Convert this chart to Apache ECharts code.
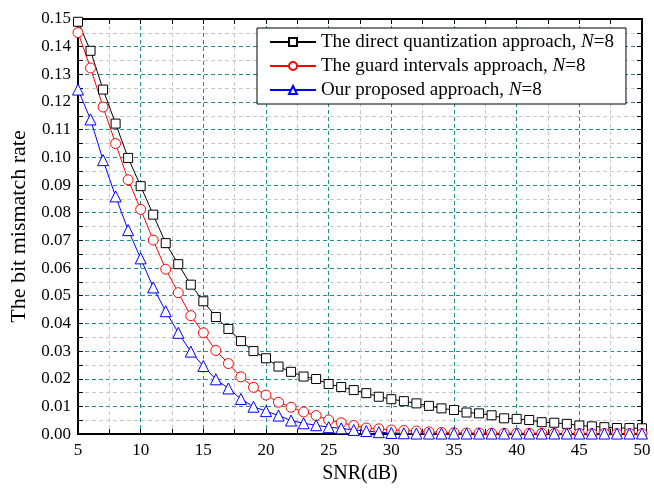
<!DOCTYPE html>
<html>
<head>
<meta charset="utf-8">
<script src="https://cdn.jsdelivr.net/npm/echarts@6/dist/echarts.min.js"></script>
<style>
  html, body { margin: 0; padding: 0; background: #fff; }
  #main { width: 654px; height: 489px; }
</style>
</head>
<body>
<div id="main"></div>
<script>
// SNR(dB) from 5 to 50
var snr = [5, 6, 7, 8, 9, 10, 11, 12, 13, 14, 15, 16, 17, 18, 19, 20, 21, 22, 23, 24, 25, 26, 27,
  28, 29, 30, 31, 32, 33, 34, 35, 36, 37, 38, 39, 40, 41, 42, 43, 44, 45, 46, 47, 48, 49, 50];

var seriesNames = [
  'The direct quantization approach, N=8',
  'The guard intervals approach, N=8',
  'Our proposed approach, N=8'
];

// bit mismatch rate
var directQuant = [0.1490, 0.1385, 0.1245, 0.1122, 0.0998, 0.0896, 0.0793, 0.0690, 0.0614, 0.0540,
  0.0480, 0.0423, 0.0380, 0.0336, 0.0300, 0.0274, 0.0244, 0.0225, 0.0208, 0.0199,
  0.0181, 0.0170, 0.0159, 0.0148, 0.0135, 0.0126, 0.0119, 0.0111, 0.0102, 0.0093,
  0.0087, 0.0078, 0.0075, 0.0068, 0.0057, 0.0055, 0.0051, 0.0043, 0.0041, 0.0037,
  0.0031, 0.0028, 0.0025, 0.0022, 0.0022, 0.0021];

var guardIntervals = [0.1451, 0.1323, 0.1182, 0.1050, 0.0919, 0.0812, 0.0701, 0.0596, 0.0511, 0.0428,
  0.0366, 0.0302, 0.0255, 0.0207, 0.0169, 0.0141, 0.0115, 0.0097, 0.0080, 0.0067,
  0.0051, 0.0041, 0.0031, 0.0022, 0.0019, 0.0015, 0.0013, 0.0011, 0.0008, 0.0006,
  0.0005, 0.0004, 0.0004, 0.0003, 0.0003, 0.0003, 0.0003, 0.0003, 0.0002, 0.0002,
  0.0002, 0.0002, 0.0002, 0.0002, 0.0002, 0.0002];

var proposed = [0.1245, 0.1137, 0.0990, 0.0859, 0.0737, 0.0635, 0.0530, 0.0444, 0.0366, 0.0298,
  0.0246, 0.0198, 0.0165, 0.0127, 0.0099, 0.0083, 0.0067, 0.0049, 0.0039, 0.0032,
  0.0025, 0.0021, 0.0015, 0.0011, 0.0007, 0.0004, 0.0003, 0.0002, 0.0002, 0.0002,
  0.0002, 0.0002, 0.0002, 0.0002, 0.0002, 0.0002, 0.0002, 0.0002, 0.0002, 0.0002,
  0.0002, 0.0002, 0.0002, 0.0002, 0.0002, 0.0002];

var serif = '"Liberation Serif", "DejaVu Serif", serif';

function pairs(ys) {
  var out = [];
  for (var i = 0; i < snr.length; i++) {
    out.push([snr[i], ys[i]]);
  }
  return out;
}

function makeSeries(name, ys, color, symbol, size) {
  return {
    name: name,
    type: 'line',
    data: pairs(ys),
    symbol: symbol,
    symbolSize: size,
    showAllSymbol: true,
    lineStyle: { color: color, width: 1 },
    itemStyle: { color: '#fff', borderColor: color, borderWidth: 1 }
  };
}

// the frame: ticks point inward on all four sides
var tickIn = { show: true, inside: true, length: 5, lineStyle: { color: '#000', width: 1 } };
var minorIn = { show: true, splitNumber: 2, length: 5, lineStyle: { color: '#000', width: 1 } };
var frameLine = { show: true, onZero: false, lineStyle: { color: '#000', width: 2 } };

var option = {
  animation: false,
  backgroundColor: '#fff',
  grid: { left: 78, right: 12, top: 19, bottom: 52 },
  legend: {
    orient: 'vertical',
    left: 257,
    top: 28,
    width: 375,
    padding: [4, 12, 4, 12],
    itemGap: 4,
    itemWidth: 46,
    itemHeight: 10,
    borderColor: '#000',
    borderWidth: 1,
    backgroundColor: '#fff',
    data: seriesNames,
    formatter: function (name) {
      return name.replace('N=8', '{i|N}=8');
    },
    textStyle: {
      fontFamily: serif,
      fontSize: 19,
      lineHeight: 20,
      color: '#000',
      rich: {
        i: { fontFamily: serif, fontSize: 19, fontStyle: 'italic', color: '#000' }
      }
    }
  },
  xAxis: [{
    type: 'value',
    min: 5,
    max: 50,
    interval: 5,
    name: 'SNR(dB)',
    nameLocation: 'middle',
    nameGap: 24,
    nameTextStyle: { fontFamily: serif, fontSize: 20, color: '#000' },
    axisLine: frameLine,
    axisTick: tickIn,
    minorTick: minorIn,
    axisLabel: { fontFamily: serif, fontSize: 17, color: '#000', margin: 8 },
    splitLine: { show: true, lineStyle: { color: '#1f9090', type: [4, 3], width: 1 } },
    minorSplitLine: { show: true, lineStyle: { color: '#c8c8c8', type: [4, 3], width: 1 } }
  }, {
    type: 'value',
    position: 'top',
    min: 5,
    max: 50,
    interval: 5,
    axisLine: frameLine,
    axisTick: tickIn,
    minorTick: minorIn,
    axisLabel: { show: false },
    splitLine: { show: false }
  }],
  yAxis: [{
    type: 'value',
    min: 0,
    max: 0.15,
    interval: 0.01,
    name: 'The bit mismatch rate',
    nameLocation: 'middle',
    nameGap: 44,
    nameTextStyle: { fontFamily: serif, fontSize: 22, color: '#000' },
    axisLine: frameLine,
    axisTick: tickIn,
    minorTick: minorIn,
    axisLabel: {
      fontFamily: serif, fontSize: 17, color: '#000', margin: 7,
      formatter: function (v) { return v.toFixed(2); }
    },
    splitLine: { show: true, lineStyle: { color: '#1f9090', type: [4, 3], width: 1 } },
    minorSplitLine: { show: true, lineStyle: { color: '#c8c8c8', type: [4, 3], width: 1 } }
  }, {
    type: 'value',
    position: 'right',
    min: 0,
    max: 0.15,
    interval: 0.01,
    axisLine: frameLine,
    axisTick: tickIn,
    minorTick: minorIn,
    axisLabel: { show: false },
    splitLine: { show: false }
  }],
  series: [
    makeSeries(seriesNames[0], directQuant, '#000', 'rect', 9),
    makeSeries(seriesNames[1], guardIntervals, '#ff0000', 'circle', 10),
    makeSeries(seriesNames[2], proposed, '#0000ff', 'triangle', 11)
  ]
};

var chart = echarts.init(document.getElementById('main'), null, { renderer: 'canvas' });
chart.setOption(option);
</script>
</body>
</html>
